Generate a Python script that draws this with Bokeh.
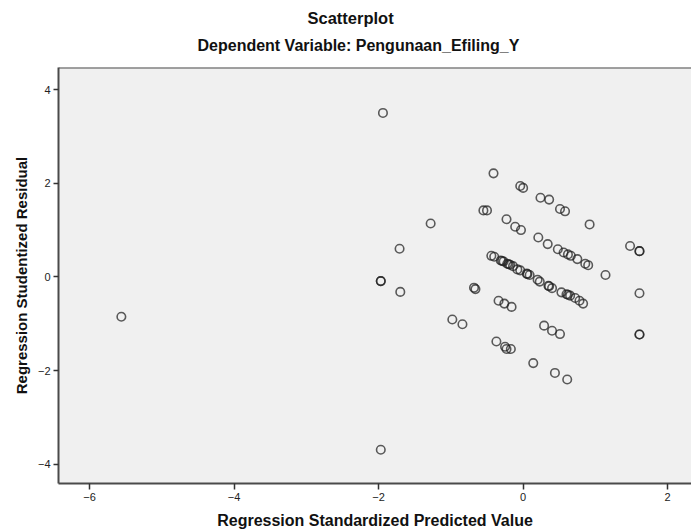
from bokeh.plotting import figure
from bokeh.models import Title, FixedTicker, ColumnDataSource, Range1d, Span
from bokeh.embed import file_html
from bokeh.resources import INLINE

# Data
pred = [-5.56, -1.94, -1.97, -1.97, -1.97, -1.71, -1.70, -1.28, -0.98, -0.84, -0.68, -0.66,
        -0.41, -0.55, -0.50, -0.04, 0.00, 0.24, 0.36, 0.51, 0.58, 0.92,
        -0.23, -0.11, -0.03, 0.21, 0.34, 0.48, 0.56, 0.62, 0.66, 0.75, 0.86, 0.90, 1.14,
        1.48, 1.61, 1.61, 1.61, 1.61, 1.61,
        -0.44, -0.40, -0.31, -0.29, -0.27, -0.22, -0.20, -0.18, -0.14, -0.08, -0.04,
        0.05, 0.06, 0.09, 0.20, 0.23, 0.35, 0.36, 0.40,
        0.53, 0.60, 0.62, 0.65, 0.72, 0.78, 0.83,
        -0.34, -0.26, -0.16,
        -0.37, -0.25, -0.23, -0.17, 0.14, 0.44, 0.61, 0.29, 0.40, 0.51]
resid = [-0.85, 3.50, -0.09, -0.09, -3.69, 0.60, -0.32, 1.14, -0.91, -1.01, -0.23, -0.26,
         2.21, 1.42, 1.42, 1.94, 1.90, 1.69, 1.65, 1.45, 1.40, 1.12,
         1.23, 1.07, 1.00, 0.84, 0.70, 0.59, 0.52, 0.48, 0.45, 0.38, 0.28, 0.25, 0.04,
         0.66, 0.55, 0.55, -0.35, -1.23, -1.23,
         0.45, 0.43, 0.35, 0.34, 0.33, 0.28, 0.27, 0.26, 0.23, 0.16, 0.14,
         0.07, 0.06, 0.04, -0.06, -0.10, -0.19, -0.20, -0.24,
         -0.33, -0.37, -0.38, -0.40, -0.45, -0.51, -0.57,
         -0.51, -0.57, -0.64,
         -1.38, -1.49, -1.54, -1.54, -1.84, -2.05, -2.19, -1.04, -1.15, -1.22]

x_ticks = [-6, -4, -2, 0, 2]
y_ticks = [-4, -2, 0, 2, 4]

title_text = "Scatterplot"
subtitle_text = "Dependent Variable: Pengunaan_Efiling_Y"
x_label = "Regression Standardized Predicted Value"
y_label = "Regression Studentized Residual"

FONT = "Liberation Sans"
X0, X1 = -6.43, 2.33
Y0, Y1 = -4.41, 4.47

p = figure(width=691, height=532, output_backend="svg", toolbar_location=None,
           x_range=Range1d(X0, X1), y_range=Range1d(Y0, Y1),
           min_border_left=58, min_border_right=0, min_border_top=67, min_border_bottom=49)

# small spacer between the frame and the subtitle
p.add_layout(Title(text=" ", text_font_size="1px", standoff=7), "above")
p.add_layout(Title(text=subtitle_text, align="left", offset=139, text_font=FONT,
                   text_font_size="16px", text_font_style="bold", text_color="#111111",
                   standoff=8), "above")
p.add_layout(Title(text=title_text, align="left", offset=249, text_font=FONT,
                   text_font_size="16.5px", text_font_style="bold", text_color="#111111",
                   standoff=7), "above")

p.background_fill_color = "#f0f0f0"
p.border_fill_color = "white"
p.outline_line_color = None
p.grid.visible = False

for ax in (p.xaxis[0], p.yaxis[0]):
    ax.axis_line_color = "#4a4a4a"
    ax.axis_line_width = 2
    ax.major_tick_in = 0
    ax.major_tick_out = 6
    ax.major_tick_line_color = "#333333"
    ax.major_tick_line_width = 1.5
    ax.minor_tick_line_color = None
    ax.major_label_text_font = FONT
    ax.major_label_text_font_size = "11px"
    ax.major_label_text_color = "#222222"
    ax.major_label_standoff = 3
    ax.axis_label_text_font = FONT
    ax.axis_label_text_font_style = "bold"
    ax.axis_label_text_color = "#111111"

p.xaxis.ticker = FixedTicker(ticks=x_ticks)
p.yaxis.ticker = FixedTicker(ticks=y_ticks)
p.xaxis.axis_label = x_label
p.yaxis.axis_label = y_label
p.xaxis.axis_label_text_font_size = "16px"
p.yaxis.axis_label_text_font_size = "15px"
p.xaxis.axis_label_standoff = 8
p.yaxis.axis_label_standoff = 5
p.yaxis.major_tick_out = 5

p.add_layout(Span(location=Y1, dimension="width", line_color="#4a4a4a", line_width=2))

src = ColumnDataSource(dict(x=pred, y=resid))
p.scatter("x", "y", source=src, marker="circle", size=8.5, fill_color=None,
          line_color="#1e1e1e", line_alpha=0.72, line_width=1.6)

open("out.html", "w").write(file_html(p, INLINE))
